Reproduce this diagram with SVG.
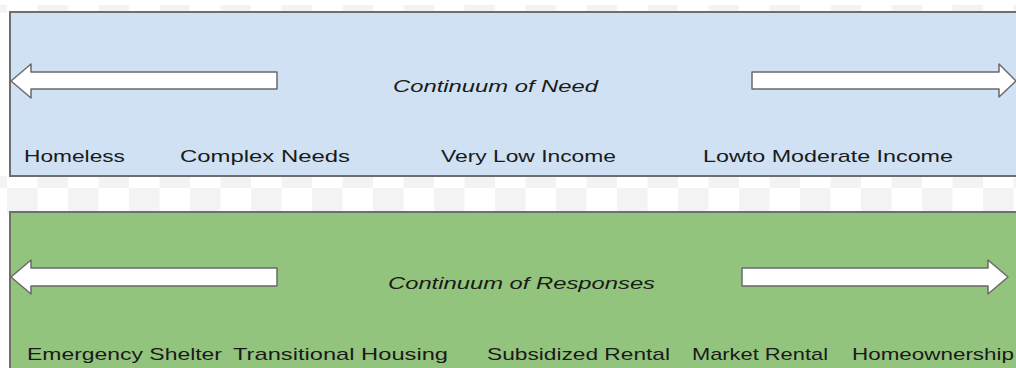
<svg xmlns="http://www.w3.org/2000/svg" width="1016" height="368" viewBox="0 0 1016 368">
<defs>
<style>
.panel{stroke:#6e6e6e;stroke-width:2}
.arrow{fill:#ffffff;stroke:#6a6a6a;stroke-width:1.5;stroke-linejoin:round}
.lbl{font-family:"Liberation Sans",Arial,sans-serif;font-size:17px;fill:#1a1a1a}
.ttl{font-family:"Liberation Sans",Arial,sans-serif;font-size:17px;font-style:italic;fill:#1a1a1a}
</style>
<pattern id="chkMid" x="7" y="188" width="61" height="61" patternUnits="userSpaceOnUse">
<rect x="0" y="0" width="30.5" height="30.5" fill="#f3f3f3"/>
<rect x="30.5" y="30.5" width="30.5" height="30.5" fill="#f3f3f3"/>
</pattern>
<pattern id="chkTop" x="37.5" y="5" width="61" height="61" patternUnits="userSpaceOnUse">
<rect x="0" y="0" width="30.5" height="30.5" fill="#f3f3f3"/>
<rect x="30.5" y="30.5" width="30.5" height="30.5" fill="#f3f3f3"/>
</pattern>
</defs>
<rect x="0" y="0" width="1016" height="368" fill="#ffffff"/>
<rect x="0" y="5" width="1016" height="8" fill="url(#chkTop)"/>
<rect x="0" y="176" width="1016" height="38" fill="url(#chkMid)"/>

<g id="need-panel">
<rect class="panel" x="10" y="12" width="1020" height="164" fill="#cfe1f2"/>
<text class="ttl" x="393" y="92" textLength="205" lengthAdjust="spacingAndGlyphs">Continuum of Need</text>
<text class="lbl" x="24" y="162" textLength="101" lengthAdjust="spacingAndGlyphs">Homeless</text>
<text class="lbl" x="180" y="162" textLength="170" lengthAdjust="spacingAndGlyphs">Complex  Needs</text>
<text class="lbl" x="441" y="162" textLength="175" lengthAdjust="spacingAndGlyphs">Very Low Income</text>
<text class="lbl" x="703" y="162" textLength="250" lengthAdjust="spacingAndGlyphs">Lowto Moderate Income</text>
</g>

<g id="responses-panel">
<rect class="panel" x="10" y="212" width="1020" height="170" fill="#93c47d"/>
<text class="ttl" x="388" y="289" textLength="267" lengthAdjust="spacingAndGlyphs">Continuum of Responses</text>
<text class="lbl" x="27" y="360" textLength="195" lengthAdjust="spacingAndGlyphs">Emergency Shelter</text>
<text class="lbl" x="233" y="360" textLength="215" lengthAdjust="spacingAndGlyphs">Transitional  Housing</text>
<text class="lbl" x="487" y="360" textLength="183" lengthAdjust="spacingAndGlyphs">Subsidized Rental</text>
<text class="lbl" x="692" y="360" textLength="136" lengthAdjust="spacingAndGlyphs">Market Rental</text>
<text class="lbl" x="852" y="360" textLength="162" lengthAdjust="spacingAndGlyphs">Homeownership</text>
</g>

<g id="connectors">
<polygon class="arrow" points="11,81 31,64 31,72 277,72 277,89 31,89 31,98"/>
<polygon class="arrow" points="752,72 999,72 999,64 1016,81 999,97 999,89 752,89"/>
<polygon class="arrow" points="11,277 31,260 31,268 277,268 277,286 31,286 31,294"/>
<polygon class="arrow" points="742,268 988,268 988,260 1008,277 988,294 988,286 742,286"/>
</g>
</svg>
